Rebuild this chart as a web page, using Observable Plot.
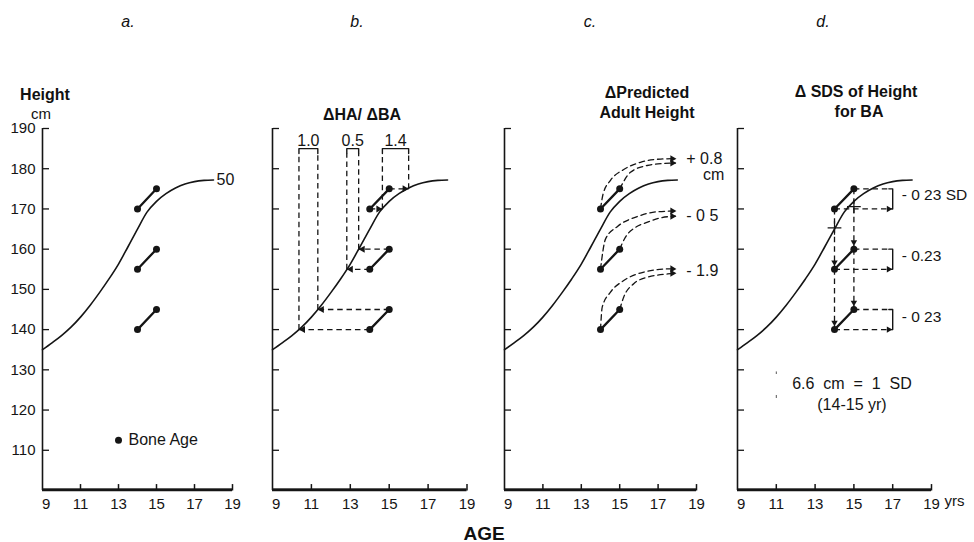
<!DOCTYPE html>
<html>
<head>
<meta charset="utf-8">
<script src="https://cdn.jsdelivr.net/npm/d3@7"></script>
<script src="https://cdn.jsdelivr.net/npm/@observablehq/plot@0.6"></script>
<style>
  html, body { margin: 0; padding: 0; background: #fff; }
  #chart { position: relative; width: 974px; height: 542px; overflow: hidden;
           font-family: "Liberation Sans", Arial, Helvetica, sans-serif; color: #111; }
  #chart svg { position: absolute; top: 0; overflow: visible; }
  .t { position: absolute; transform: translate(-50%, -50%); white-space: nowrap; line-height: 1; }
  .letter { font-style: italic; font-size: 16px; }
  .bold { font-weight: bold; font-size: 16px; }
</style>
</head>
<body>
<div id="chart">
  <div class="t letter" style="left:128px;top:22px">a.</div>
  <div class="t letter" style="left:357px;top:22px">b.</div>
  <div class="t letter" style="left:590px;top:22px">c.</div>
  <div class="t letter" style="left:823px;top:22px">d.</div>
  <div class="t bold" style="left:45px;top:95px">Height</div>
  <div class="t" style="left:41px;top:113px;font-size:15px">cm</div>
  <div class="t bold" style="left:362px;top:115px">ΔHA/ ΔBA</div>
  <div class="t bold" style="left:647px;top:93px">ΔPredicted</div>
  <div class="t bold" style="left:647px;top:113px">Adult Height</div>
  <div class="t bold" style="left:856px;top:92px">Δ SDS of Height</div>
  <div class="t bold" style="left:859px;top:112px">for BA</div>
  <div class="t bold" style="left:484px;top:533px;font-size:19px">AGE</div>
</div>
<script>
// ---------- data ----------
const xDomain = [9, 19];
const yDomain = [100, 190];
const xTicks = [9, 11, 13, 15, 17, 19];
const yTicks = [110, 120, 130, 140, 150, 160, 170, 180, 190];

// 50th centile height curve
const curveAge    = [9, 9.5, 10, 10.5, 11, 11.5, 12, 12.5, 13, 13.5, 14, 14.5, 15, 15.5, 16, 16.5, 17, 17.5, 18];
const curveHeight = [135, 136.7, 138.5, 140.6, 143.1, 146.0, 149.2, 152.6, 156.3, 160.6, 165.0, 169.2, 171.9, 173.8, 175.2, 176.2, 176.8, 177.1, 177.2];
const curveLabel = "50";

// bone-age pairs (BA 14 -> BA 15)
const boneAges = [14, 15];
const pairLow  = [140, 155, 170];
const pairHigh = [145, 160, 175];
const legendAge = 13, legendHeight = 112.5, legendText = "Bone Age";

// panel b: height ages for heights [140,145,155,160,170,175]
const heightAgeB = [10.36, 11.33, 12.82, 13.43, 14.65, 16.0];
const ratioLabels = ["1.0", "0.5", "1.4"];
const bracketTopB = 185, bracketShoulderB = 183.8, ratioLabelHeight = 187;

// panel c: projected growth (dashed) from each bone-age point
const projAges = [
  [14, 14.14, 14.52, 15.21, 16.08, 17.13, 17.9],
  [15, 15.56, 16.43, 17.3, 17.9],
  [14, 14.26, 14.87, 15.91, 16.95, 17.9],
  [15, 15.3, 15.85, 16.45, 17.13, 17.9],
  [14, 14.09, 14.52, 15.21, 16.26, 17.65, 17.9],
  [15, 15.21, 15.73, 16.43, 17.65, 17.9]
];
const projHeights = [
  [170, 173.8, 177.1, 179.8, 181.6, 182.4, 182.5],
  [175, 179.1, 180.8, 181.3, 181.4],
  [155, 162.5, 165.6, 168.1, 169.3, 169.5],
  [160, 163, 165.5, 166.7, 167.8, 168.2],
  [140, 145.6, 149.3, 152.2, 154.3, 155.1, 155.1],
  [145, 148.1, 151.4, 153, 153.9, 154]
];
const cLabels = ["+ 0.8", "- 0 5", "- 1.9"];
const cLabelHeights = [182.5, 168.2, 154.7];
const cUnit = "cm", cUnitHeight = 178.4;

// panel d
const dLabels = ["- 0 23 SD", "- 0.23", "- 0 23"];
const dLabelHeights = [173.4, 158.2, 143.2];
const bracketAgeD = 17, bracketHookAgeD = 16.8;
const plusAges = [14, 15], plusHeights = [165.3, 170.6];
const sdBarAge = 11, sdBarLow = 123, sdBarHigh = 129.6;
const sdLegend = ["6.6\u00a0\u00a0cm\u00a0\u00a0=\u00a0\u00a01\u00a0\u00a0SD", "(14-15 yr)"];
const sdLegendAge = 14.9, sdLegendHeights = [126.6, 121.4];
const yearsUnit = "yrs";

// ---------- derived tables ----------
const curve = curveAge.map((a, i) => ({age: a, h: curveHeight[i]}));
const bone = pairLow.flatMap((lo, i) => [
  {pair: i, age: boneAges[0], h: lo},
  {pair: i, age: boneAges[1], h: pairHigh[i]}
]);
const ink = "#151515";
const dash = "5.5,3.8";
const xTickLen = 1.6;   // tick length, in cm on the y scale (~6px)
const baseThick = 0.42; // baseline thickness, in cm on the y scale (~1.7px)

const chart = document.getElementById("chart");

// labels + median curve (drawn first)
function baseMarks(showYLabels) {
  return [
    Plot.axisY({anchor: "left", ticks: yTicks, tickSize: 0, tickPadding: 7, label: null, fill: ink, fontSize: 15,
                tickFormat: showYLabels ? d => String(d) : () => ""}),
    Plot.axisX({anchor: "bottom", ticks: xTicks, tickSize: 0, tickPadding: 8, label: null, fill: ink, fontSize: 15,
                tickFormat: d => d === xDomain[0] ? "\u2002" + d : String(d)}),
    Plot.line(curve, {x: "age", y: "h", curve: "monotone-x", stroke: ink, strokeWidth: 1.6})
  ];
}
// axis lines and inward ticks (drawn last, on top)
function axisLines() {
  return [
    Plot.ruleX([xDomain[0]], {stroke: ink, strokeWidth: 1.6}),
    Plot.ruleY([yDomain[0]], {stroke: ink, strokeWidth: 1.7}),
    Plot.rect([xDomain], {x1: d => d[0], x2: d => d[1], y1: () => yDomain[0], y2: () => yDomain[0] + baseThick, fill: ink}),
    Plot.axisY({anchor: "right", frameAnchor: "left", ticks: yTicks, tickSize: 6, fill: "none", label: null,
                stroke: ink, strokeWidth: 1.3}),
    Plot.link(xTicks.slice(1), {x1: d => d, x2: d => d, y1: () => yDomain[0], y2: () => yDomain[0] + xTickLen,
                stroke: ink, strokeWidth: 1.5})
  ];
}
function boneMarks() {
  return [
    Plot.line(bone, {x: "age", y: "h", z: "pair", stroke: ink, strokeWidth: 2.3}),
    Plot.dot(bone, {x: "age", y: "h", r: 3.5, fill: ink})
  ];
}
function addPanel(axisLeft, innerWidth, marginRight, marks) {
  const svg = Plot.plot({
    width: 42 + innerWidth + marginRight,
    height: 542,
    marginTop: 128, marginBottom: 52, marginLeft: 42, marginRight,
    x: {domain: xDomain},
    y: {domain: yDomain},
    style: {background: "transparent", fontFamily: "Liberation Sans, Arial, sans-serif", fontSize: "15px", color: ink},
    marks: [...marks, ...axisLines()]
  });
  svg.style.left = (axisLeft - 42) + "px";
  chart.append(svg);
}

// ---------- panel a ----------
addPanel(41.7, 190, 14, [
  ...baseMarks(true),
  Plot.text([curve[curve.length - 1]], {x: "age", y: "h", text: () => curveLabel, dx: 3, textAnchor: "start", fontSize: 16, fill: ink}),
  ...boneMarks(),
  Plot.dot([legendAge], {x: d => d, y: () => legendHeight, r: 3.5, fill: ink}),
  Plot.text([legendText], {x: () => legendAge, y: () => legendHeight, text: d => d, dx: 10, textAnchor: "start", fontSize: 16, fill: ink})
]);

// ---------- panel b ----------
const heightsB = [pairLow[0], pairHigh[0], pairLow[1], pairHigh[1], pairLow[2], pairHigh[2]];
const arrowsB = heightsB.map((h, i) => ({h, ba: boneAges[i % 2], ha: heightAgeB[i]}));
const bracketsB = ratioLabels.flatMap((t, k) => {
  const a1 = heightAgeB[2 * k], a2 = heightAgeB[2 * k + 1];
  return [
    {k, age: a1, h: bracketShoulderB}, {k, age: a1, h: bracketTopB},
    {k, age: a2, h: bracketTopB}, {k, age: a2, h: bracketShoulderB}
  ];
});
const ratioB = ratioLabels.map((t, k) => ({t, age: (heightAgeB[2 * k] + heightAgeB[2 * k + 1]) / 2}));
addPanel(271.5, 194.5, 14, [
  ...baseMarks(false),
  Plot.link(arrowsB, {x1: "ba", y1: "h", x2: "ha", y2: "h", stroke: ink, strokeWidth: 1.3, strokeDasharray: dash}),
  Plot.link(arrowsB, {x1: "ha", y1: "h", x2: "ha", y2: () => bracketShoulderB, stroke: ink, strokeWidth: 1.3, strokeDasharray: dash}),
  Plot.line(bracketsB, {x: "age", y: "h", z: "k", stroke: ink, strokeWidth: 1.4}),
  Plot.dot(arrowsB.filter(d => d.ha < d.ba), {x: "ha", y: "h", symbol: "triangle", r: 2.6, rotate: -90, dx: 4, fill: ink}),
  Plot.dot(arrowsB.filter(d => d.ha > d.ba), {x: "ha", y: "h", symbol: "triangle", r: 2.6, rotate: 90, dx: -4, fill: ink}),
  Plot.text(ratioB, {x: "age", y: () => ratioLabelHeight, text: "t", fontSize: 16, fill: ink}),
  ...boneMarks()
]);

// ---------- panel c ----------
const proj = projAges.flatMap((ages, k) => ages.map((a, j) => ({k, age: a, h: projHeights[k][j]})));
const projEnds = projAges.map((ages, k) => ({age: ages[ages.length - 1], h: projHeights[k][ages.length - 1]}));
addPanel(504, 192, 45, [
  ...baseMarks(false),
  Plot.line(proj, {x: "age", y: "h", z: "k", curve: "monotone-x", stroke: ink, strokeWidth: 1.3, strokeDasharray: dash}),
  Plot.dot(projEnds, {x: "age", y: "h", symbol: "triangle", r: 2.6, rotate: 90, dx: -3, fill: ink}),
  Plot.text(cLabels, {x: () => 18, y: (d, i) => cLabelHeights[i], text: d => d, dx: 9, textAnchor: "start", fontSize: 16, fill: ink}),
  Plot.text([cUnit], {x: () => 18, y: () => cUnitHeight, text: d => d, dx: 47, textAnchor: "end", fontSize: 16, fill: ink}),
  ...boneMarks()
]);

// ---------- panel d ----------
const vertD = [];
boneAges.forEach((a, j) => {
  const hs = (j === 0 ? pairLow : pairHigh).slice().sort((p, q) => q - p);
  for (let i = 0; i < hs.length - 1; i++) vertD.push({age: a, top: hs[i], bottom: hs[i + 1]});
});
const horizD = pairLow.map((lo, i) => ({lo, hi: pairHigh[i]}));
const bracketD = horizD.flatMap((d, k) => [
  {k, age: bracketHookAgeD, h: d.hi}, {k, age: bracketAgeD, h: d.hi}, {k, age: bracketAgeD, h: d.lo}
]);
addPanel(736.5, 194, 44, [
  ...baseMarks(false),
  Plot.link(vertD, {x1: "age", y1: "top", x2: "age", y2: "bottom", stroke: ink, strokeWidth: 1.3, strokeDasharray: dash}),
  Plot.dot(vertD, {x: "age", y: "bottom", symbol: "triangle", r: 2.4, rotate: 180, dy: -7, fill: ink}),
  Plot.link(horizD, {x1: () => boneAges[1], y1: "hi", x2: () => bracketHookAgeD, y2: "hi", stroke: ink, strokeWidth: 1.3, strokeDasharray: dash}),
  Plot.link(horizD, {x1: () => boneAges[0], y1: "lo", x2: () => bracketAgeD, y2: "lo", stroke: ink, strokeWidth: 1.3, strokeDasharray: dash}),
  Plot.dot(horizD, {x: () => bracketAgeD, y: "lo", symbol: "triangle", r: 2.4, rotate: 90, dx: -4, fill: ink}),
  Plot.line(bracketD, {x: "age", y: "h", z: "k", stroke: ink, strokeWidth: 1.4}),
  Plot.dot(plusAges, {x: d => d, y: (d, i) => plusHeights[i], symbol: "plus", r: 4.5, stroke: ink, strokeWidth: 1.2}),
  Plot.text(dLabels, {x: () => bracketAgeD, y: (d, i) => dLabelHeights[i], text: d => d, dx: 9, textAnchor: "start", fontSize: 15.5, fill: ink}),
  Plot.link([sdBarAge], {x1: d => d, y1: () => sdBarLow, x2: d => d, y2: () => sdBarHigh, stroke: "#555", strokeWidth: 1, strokeDasharray: "3,21"}),
  Plot.text(sdLegend, {x: () => sdLegendAge, y: (d, i) => sdLegendHeights[i], text: d => d, fontSize: 16, fill: ink}),
  Plot.text([yearsUnit], {frameAnchor: "bottom-right", text: d => d, dx: 13, dy: 15, textAnchor: "start", fontSize: 15, fill: ink}),
  ...boneMarks()
]);
</script>
</body>
</html>
